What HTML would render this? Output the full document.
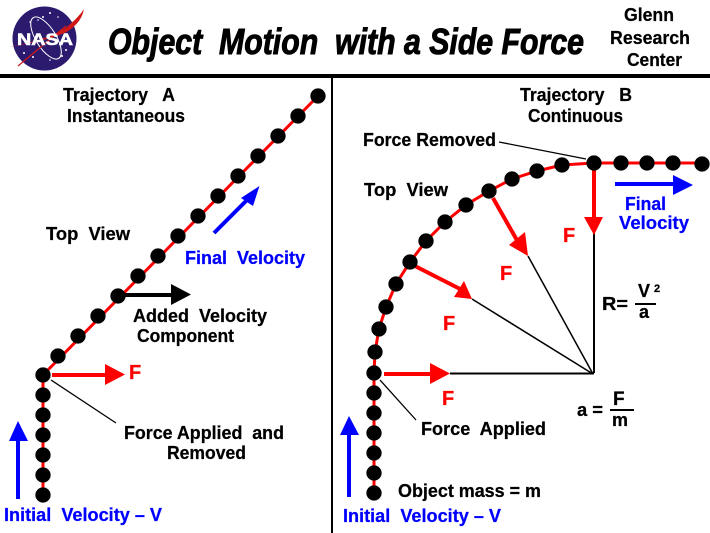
<!DOCTYPE html>
<html><head><meta charset="utf-8"><style>
html,body{margin:0;padding:0;background:#fff}
svg{display:block}
text{font-family:"Liberation Sans",sans-serif;font-weight:bold;font-size:18px;fill:#000;white-space:pre;stroke:#000;stroke-width:.25}
.b{fill:#00f;stroke:#00f}.r{fill:#f00;stroke:#f00;font-size:20px}
</style></head><body>
<svg width="710" height="533" viewBox="0 0 710 533" xmlns="http://www.w3.org/2000/svg">
<rect width="710" height="533" fill="#fff"/>
<!-- NASA -->
<circle cx="44.5" cy="38.5" r="32" fill="#2b1a6e"/>
<g fill="#fff">
<circle cx="50" cy="13" r="1"/><circle cx="43" cy="17" r="1"/><circle cx="38" cy="20" r=".8"/><circle cx="24" cy="53" r="1"/><circle cx="33" cy="57" r="1"/><circle cx="66" cy="50" r="1"/><circle cx="62" cy="56" r="1"/><circle cx="58" cy="17" r=".8"/><circle cx="30" cy="22" r=".7"/><circle cx="50" cy="60" r=".8"/>
</g>
<ellipse cx="46" cy="38" rx="10" ry="24" transform="rotate(-32 46 38)" fill="none" stroke="#fff" stroke-width="1"/>
<path d="M9 47 C35 42 55 36 68 26 C75 20 80 15 84 9 C82 20 74 29 62 34 C46 40 28 44 9 47Z" fill="#d01818"/>
<path d="M18 66 L66 26" stroke="#d01818" stroke-width="1.200"/>
<text x="17" y="45" textLength="56" lengthAdjust="spacingAndGlyphs" style="font-size:17px;fill:#fff;stroke:#fff;stroke-width:.6">NASA</text>
<!-- header -->
<text x="108" y="54" textLength="476" lengthAdjust="spacingAndGlyphs" style="font-size:36px;font-style:italic;stroke-width:1">Object  Motion  with a Side Force</text>
<text x="624" y="21" textLength="50" lengthAdjust="spacingAndGlyphs">Glenn</text>
<text x="610" y="44" textLength="80" lengthAdjust="spacingAndGlyphs">Research</text>
<text x="627" y="66" textLength="55" lengthAdjust="spacingAndGlyphs">Center</text>
<rect x="0" y="74" width="710" height="4" fill="#000"/>
<rect x="331" y="78" width="2" height="455" fill="#000"/>
<!-- left trajectory -->
<path d="M43 495V375L318 96" fill="none" stroke="#f00" stroke-width="3"/>
<g fill="#000" stroke="#000" stroke-width=".4">
<circle cx="43" cy="495" r="7.500"/><circle cx="43" cy="475" r="7.500"/><circle cx="43" cy="455" r="7.500"/><circle cx="43" cy="435" r="7.500"/><circle cx="43" cy="415" r="7.500"/><circle cx="43" cy="395" r="7.500"/><circle cx="43" cy="375" r="7.500"/>
<circle cx="58" cy="356" r="7.500"/><circle cx="78" cy="336" r="7.500"/><circle cx="98" cy="316" r="7.500"/><circle cx="118" cy="296" r="7.500"/><circle cx="138" cy="276" r="7.500"/><circle cx="158" cy="256" r="7.500"/><circle cx="178" cy="236" r="7.500"/><circle cx="198" cy="216" r="7.500"/><circle cx="218" cy="196" r="7.500"/><circle cx="238" cy="176" r="7.500"/><circle cx="258" cy="156" r="7.500"/><circle cx="278" cy="136" r="7.500"/><circle cx="298" cy="116" r="7.500"/><circle cx="318" cy="96" r="7.500"/>
</g>
<!-- left arrows -->
<path d="M52 375H106" stroke="#f00" stroke-width="4"/><path d="M105 364L125 374.500L105 385Z" fill="#f00"/>
<path d="M124 295H172" stroke="#000" stroke-width="4"/><path d="M171 284L191 294.500L171 305Z" fill="#000"/>
<path d="M18 499V440" stroke="#00f" stroke-width="4"/><path d="M9 441L18 421L28 441Z" fill="#00f"/>
<path d="M214 233L248 199" stroke="#00f" stroke-width="4"/><path d="M241 198L259.500 186L253 206Z" fill="#00f"/>
<path d="M51 380L116 423" stroke="#000" stroke-width="1.300"/>
<!-- left labels -->
<text x="63" y="101" textLength="112" lengthAdjust="spacingAndGlyphs">Trajectory   A</text>
<text x="67" y="122" textLength="118" lengthAdjust="spacingAndGlyphs">Instantaneous</text>
<text x="46" y="240" textLength="84" lengthAdjust="spacingAndGlyphs">Top  View</text>
<text x="185" y="264" class="b" textLength="120" lengthAdjust="spacingAndGlyphs">Final  Velocity</text>
<text x="133" y="322" textLength="134" lengthAdjust="spacingAndGlyphs">Added  Velocity</text>
<text x="137" y="342" textLength="97" lengthAdjust="spacingAndGlyphs">Component</text>
<text x="129" y="379" class="r">F</text>
<text x="124" y="439" textLength="160" lengthAdjust="spacingAndGlyphs">Force Applied  and</text>
<text x="167" y="459" textLength="79" lengthAdjust="spacingAndGlyphs">Removed</text>
<text x="4" y="521" class="b" textLength="158" lengthAdjust="spacingAndGlyphs">Initial  Velocity – V</text>
<!-- right trajectory -->
<path d="M374 493V373L375 352L379 329L386 307L396 284L410 262L426 241L445 222L466 205L489 191L512 179L537 171L562 165L594 163H702" fill="none" stroke="#f00" stroke-width="3"/>
<!-- construction lines -->
<path d="M593 374L472 299M593 374L528 256" fill="none" stroke="#000" stroke-width="1.500"/>
<path d="M594 230V373" stroke="#000" stroke-width="2"/>
<path d="M450 373.500H594" stroke="#000" stroke-width="2"/>
<!-- right red arrows -->
<path d="M384 374H431" stroke="#f00" stroke-width="4"/><path d="M430 363L450 373.500L430 384Z" fill="#f00"/>
<path d="M594 165V218" stroke="#f00" stroke-width="4"/><path d="M584 217L594 235L603 217Z" fill="#f00"/>
<path d="M413 265L462 290" stroke="#f00" stroke-width="4"/><path d="M464 281L472 299L454 297Z" fill="#f00"/>
<path d="M493 198L518 242" stroke="#f00" stroke-width="4"/><path d="M525 232L528 256L509 245Z" fill="#f00"/>
<g fill="#000" stroke="#000" stroke-width=".4">
<circle cx="374" cy="493" r="7.500"/><circle cx="374" cy="473" r="7.500"/><circle cx="374" cy="453" r="7.500"/><circle cx="374" cy="433" r="7.500"/><circle cx="374" cy="413" r="7.500"/><circle cx="374" cy="393" r="7.500"/><circle cx="374" cy="373" r="7.500"/>
<circle cx="375" cy="352" r="7.500"/><circle cx="379" cy="329" r="7.500"/><circle cx="386" cy="307" r="7.500"/><circle cx="396" cy="284" r="7.500"/><circle cx="410" cy="262" r="7.500"/><circle cx="426" cy="241" r="7.500"/><circle cx="445" cy="222" r="7.500"/><circle cx="466" cy="205" r="7.500"/><circle cx="489" cy="191" r="7.500"/><circle cx="512" cy="179" r="7.500"/><circle cx="537" cy="171" r="7.500"/><circle cx="562" cy="165" r="7.500"/><circle cx="594" cy="163" r="7.500"/><circle cx="621" cy="163" r="7.500"/><circle cx="647" cy="163" r="7.500"/><circle cx="673" cy="163" r="7.500"/><circle cx="702" cy="164" r="7.500"/>
</g>
<!-- right blue arrows -->
<path d="M615 184H674" stroke="#00f" stroke-width="4"/><path d="M673 175L693 185L673 195Z" fill="#00f"/>
<path d="M349 497V434" stroke="#00f" stroke-width="4"/><path d="M340 435L349 416L359 435Z" fill="#00f"/>
<path d="M380 380L416 420M499 142L586 159" fill="none" stroke="#000" stroke-width="1.300"/>
<!-- right labels -->
<text x="520" y="101" textLength="112" lengthAdjust="spacingAndGlyphs">Trajectory   B</text>
<text x="528" y="122" textLength="95" lengthAdjust="spacingAndGlyphs">Continuous</text>
<text x="363" y="146" textLength="133" lengthAdjust="spacingAndGlyphs">Force Removed</text>
<text x="364" y="196" textLength="84" lengthAdjust="spacingAndGlyphs">Top  View</text>
<text x="625" y="210" class="b" textLength="41" lengthAdjust="spacingAndGlyphs">Final</text>
<text x="619" y="229" class="b" textLength="70" lengthAdjust="spacingAndGlyphs">Velocity</text>
<text x="563" y="242" class="r">F</text>
<text x="500" y="280" class="r">F</text>
<text x="443" y="330" class="r">F</text>
<text x="442" y="405" class="r">F</text>
<text x="602" y="310" textLength="26" lengthAdjust="spacingAndGlyphs">R=</text>
<text x="638" y="297" style="font-size:18px">V</text>
<text x="654" y="292" style="font-size:11px">2</text>
<rect x="635" y="303" width="21" height="2" fill="#000"/>
<text x="639" y="318">a</text>
<text x="577" y="416" textLength="26" lengthAdjust="spacingAndGlyphs">a =</text>
<text x="613" y="405" style="font-size:19px">F</text>
<rect x="610" y="409" width="24" height="2" fill="#000"/>
<text x="612" y="426">m</text>
<text x="421" y="435" textLength="125" lengthAdjust="spacingAndGlyphs">Force  Applied</text>
<text x="398" y="497" textLength="143" lengthAdjust="spacingAndGlyphs">Object mass = m</text>
<text x="343" y="522" class="b" textLength="158" lengthAdjust="spacingAndGlyphs">Initial  Velocity – V</text>
</svg>
</body></html>
